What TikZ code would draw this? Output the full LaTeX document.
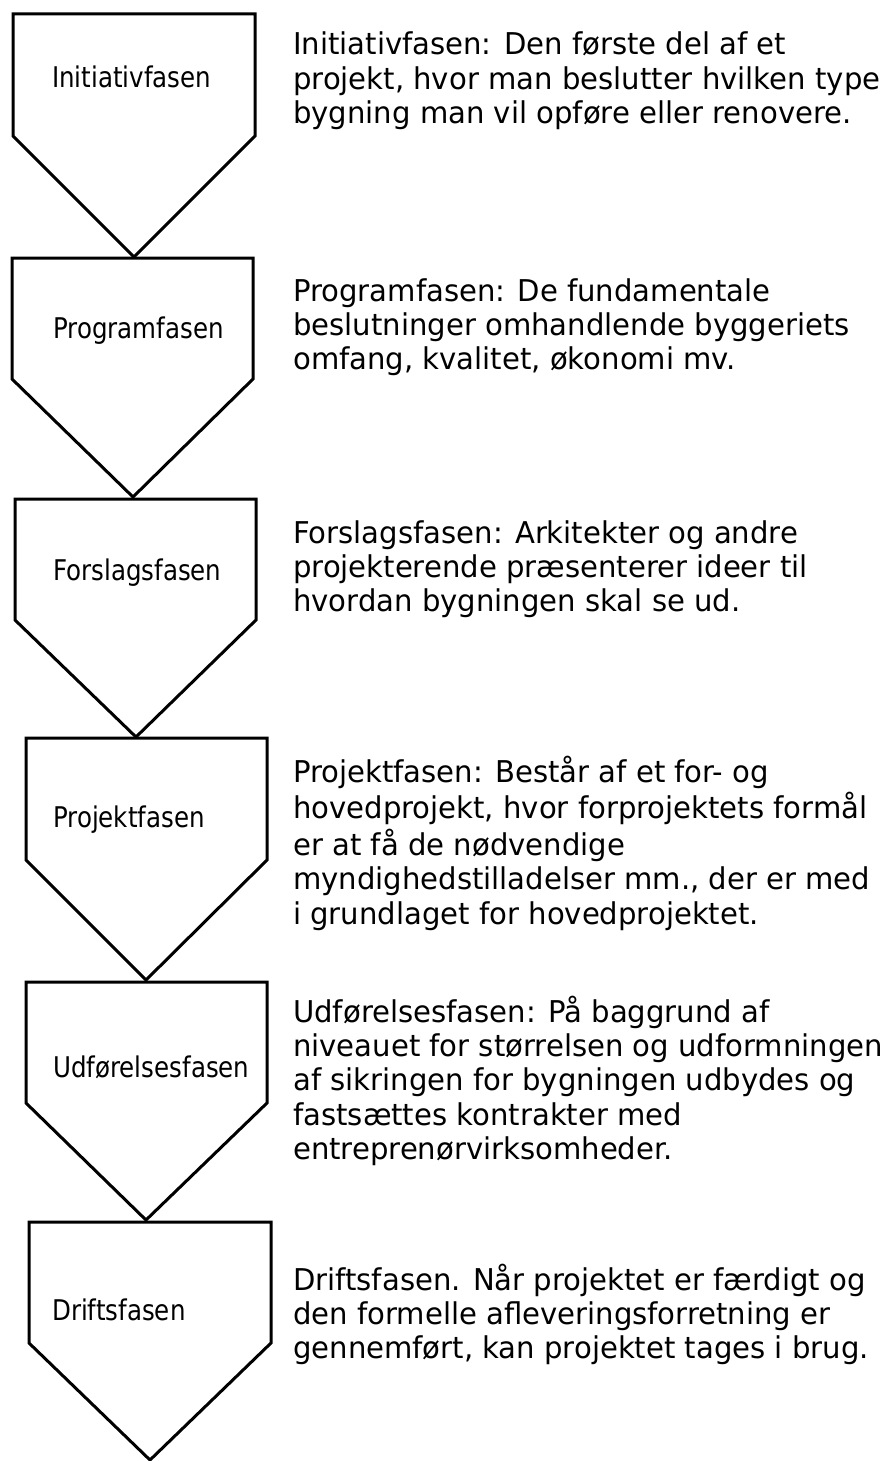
\documentclass[tikz,border=0pt]{standalone}
\usepackage{fontspec}
\setmainfont{DejaVu Sans}[FakeStretch=0.97]
\newfontfamily\phaselabelfont{DejaVu Sans}[FakeStretch=0.86]
\newcommand\desctext[1]{\begin{tabular}[t]{@{}l@{}}#1\end{tabular}}
\tikzset{
  phasebox/.style={draw=black, line width=3pt, line join=miter, fill=white},
  phaselabel/.style={anchor=base west, inner sep=0pt, font=\phaselabelfont\fontsize{28.5}{34.4}\selectfont},
  phasedesc/.style={anchor=base west, inner sep=0pt, font=\fontsize{30}{34.4}\selectfont},
}
\newcommand\phaseshape[6]{\draw[phasebox] (#1,#3) -- (#2,#3) -- (#2,#4) -- (#5,#6) -- (#1,#4) -- cycle;}
\begin{document}
\begin{tikzpicture}[x=1pt,y=-1pt]
\useasboundingbox[fill=white] (0,0) rectangle (883,1461);
\phaseshape{13}{255}{14}{136}{134}{257}
\phaseshape{12}{253}{258}{379}{133}{497}
\phaseshape{15}{256}{499}{620}{136}{737}
\phaseshape{26}{267}{738}{860}{146}{980}
\phaseshape{26}{267}{982}{1103}{146}{1220}
\phaseshape{29}{271}{1222}{1343}{150}{1460}

\node[phaselabel] (l1) at (52,88) {Initiativfasen};
\node[phaselabel] (l2) at (53,338) {Programfasen};
\node[phaselabel] (l3) at (53,580) {Forslagsfasen};
\node[phaselabel] (l4) at (53,827) {Projektfasen};
\node[phaselabel] (l5) at (53,1077) {Udførelsesfasen};
\node[phaselabel] (l6) at (52,1320) {Driftsfasen};

\node[phasedesc] (d1) at (293,55) {\desctext{Initiativfasen: Den første del af et\\projekt, hvor man beslutter hvilken type\\bygning man vil opføre eller renovere.}};
\node[phasedesc] (d2) at (293,301) {\desctext{Programfasen: De fundamentale\\beslutninger omhandlende byggeriets\\omfang, kvalitet, økonomi mv.}};
\node[phasedesc] (d3) at (293,543) {\desctext{Forslagsfasen: Arkitekter og andre\\projekterende præsenterer ideer til\\hvordan bygningen skal se ud.}};
\node[phasedesc] (d4) at (293,782) {\desctext{Projektfasen: Består af et for- og\\hovedprojekt, hvor forprojektets formål\\er at få de nødvendige\\myndighedstilladelser mm., der er med\\i grundlaget for hovedprojektet.}};
\node[phasedesc] (d5) at (293,1022) {\desctext{Udførelsesfasen: På baggrund af\\niveauet for størrelsen og udformningen\\af sikringen for bygningen udbydes og\\fastsættes kontrakter med\\entreprenørvirksomheder.}};
\node[phasedesc] (d6) at (293,1290) {\desctext{Driftsfasen. Når projektet er færdigt og\\den formelle afleveringsforretning er\\gennemført, kan projektet tages i brug.}};
\end{tikzpicture}
\end{document}
